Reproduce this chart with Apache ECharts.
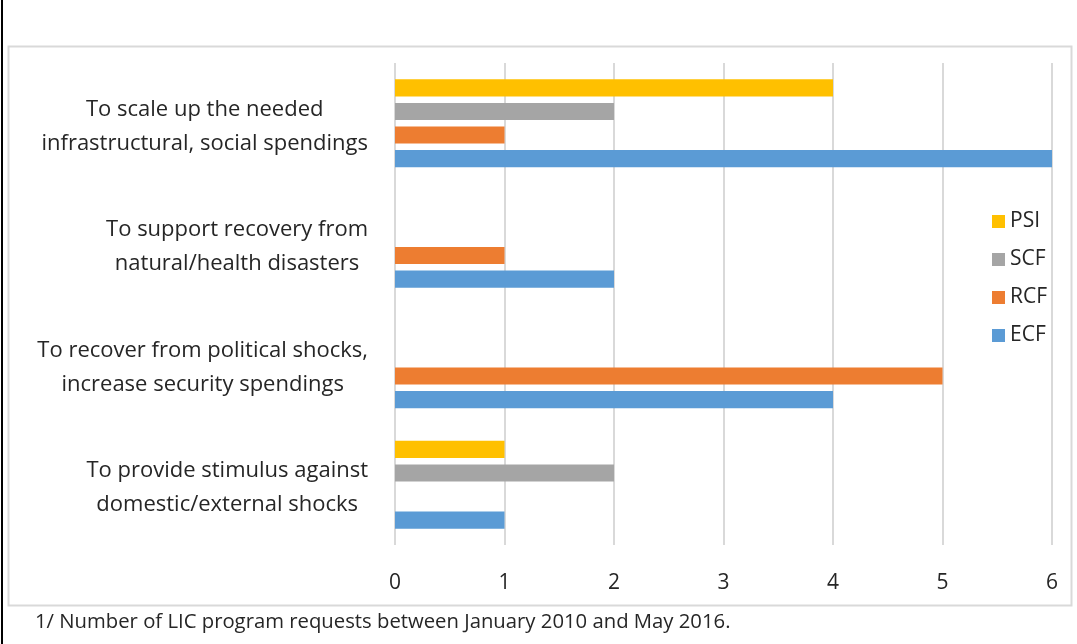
<!DOCTYPE html>
<html>
<head>
<meta charset="utf-8">
<script src="https://cdn.jsdelivr.net/npm/echarts@6/dist/echarts.min.js"></script>
<style>
html,body{margin:0;padding:0;background:#fff;}
#chart{width:1077px;height:644px;}
</style>
</head>
<body>
<div id="chart"></div>
<script>
const categories = [
  "To scale up the needed\ninfrastructural, social spendings",
  "To support recovery from\nnatural/health disasters",
  "To recover from political shocks,\nincrease security spendings",
  "To provide stimulus against\ndomestic/external shocks"
];
const seriesNames = ["PSI", "SCF", "RCF", "ECF"];
const psi = [4, null, null, 1];
const scf = [2, null, null, 2];
const rcf = [1, 1, 5, null];
const ecf = [6, 2, 4, 1];
const xTicks = [0, 1, 2, 3, 4, 5, 6];
const footnote = "1/ Number of LIC program requests between January 2010 and May 2016.";

const colors = ["#FFC000", "#A5A5A5", "#ED7D31", "#5B9BD5"];
const values = [psi, scf, rcf, ecf];
const FONT = "Open Sans";

const chart = echarts.init(document.getElementById('chart'), null, {renderer: 'canvas'});
chart.setOption({
  animation: false,
  backgroundColor: '#fff',
  grid: {left: 395, right: 25, top: 63, bottom: 99, containLabel: false},
  legend: {
    orient: 'vertical',
    left: 987,
    top: 206,
    itemWidth: 13,
    itemHeight: 13,
    itemGap: 17,
    icon: 'rect',
    data: seriesNames,
    textStyle: {fontFamily: FONT, fontSize: 21, color: '#262626', lineHeight: 21, padding: [0, 0, 0, 0]}
  },
  xAxis: {
    type: 'value',
    min: xTicks[0],
    max: xTicks[xTicks.length - 1],
    interval: 1,
    axisLine: {show: false},
    axisTick: {show: false},
    splitLine: {show: true, lineStyle: {color: '#d9d9d9', width: 2}},
    axisLabel: {fontFamily: FONT, fontSize: 21, color: '#262626', margin: 28,
      formatter: v => String(v)}
  },
  yAxis: {
    type: 'category',
    inverse: true,
    data: categories,
    axisLine: {show: false},
    axisTick: {show: false},
    splitLine: {show: false},
    axisLabel: {
      fontFamily: FONT, fontSize: 22, color: '#262626', margin: 27, align: 'right',
      padding: [6, 0, 0, 0],
      formatter: function (v) {
        return v.split('\n').map(l => '{c|' + l + '}').join('\n');
      },
      rich: {c: {align: 'center', fontFamily: FONT, fontSize: 22, color: '#262626', lineHeight: 34}}
    }
  },
  series: seriesNames.map((n, i) => ({
    name: n,
    type: 'bar',
    data: values[i],
    barGap: '38%',
    barCategoryGap: '27%',
    itemStyle: {color: colors[i]}
  })),
  graphic: [
    {type: 'rect', shape: {x: 8.5, y: 46.5, width: 1063, height: 559}, style: {fill: 'none', stroke: '#d9d9d9', lineWidth: 2}, z: -1},
    {type: 'line', shape: {x1: 2, y1: 0, x2: 2, y2: 644}, style: {stroke: '#000', lineWidth: 2}},
    {type: 'text', left: 35, top: 612, style: {text: footnote, fontFamily: FONT, fontSize: 20.3, fill: '#262626'}}
  ]
});
</script>
</body>
</html>
